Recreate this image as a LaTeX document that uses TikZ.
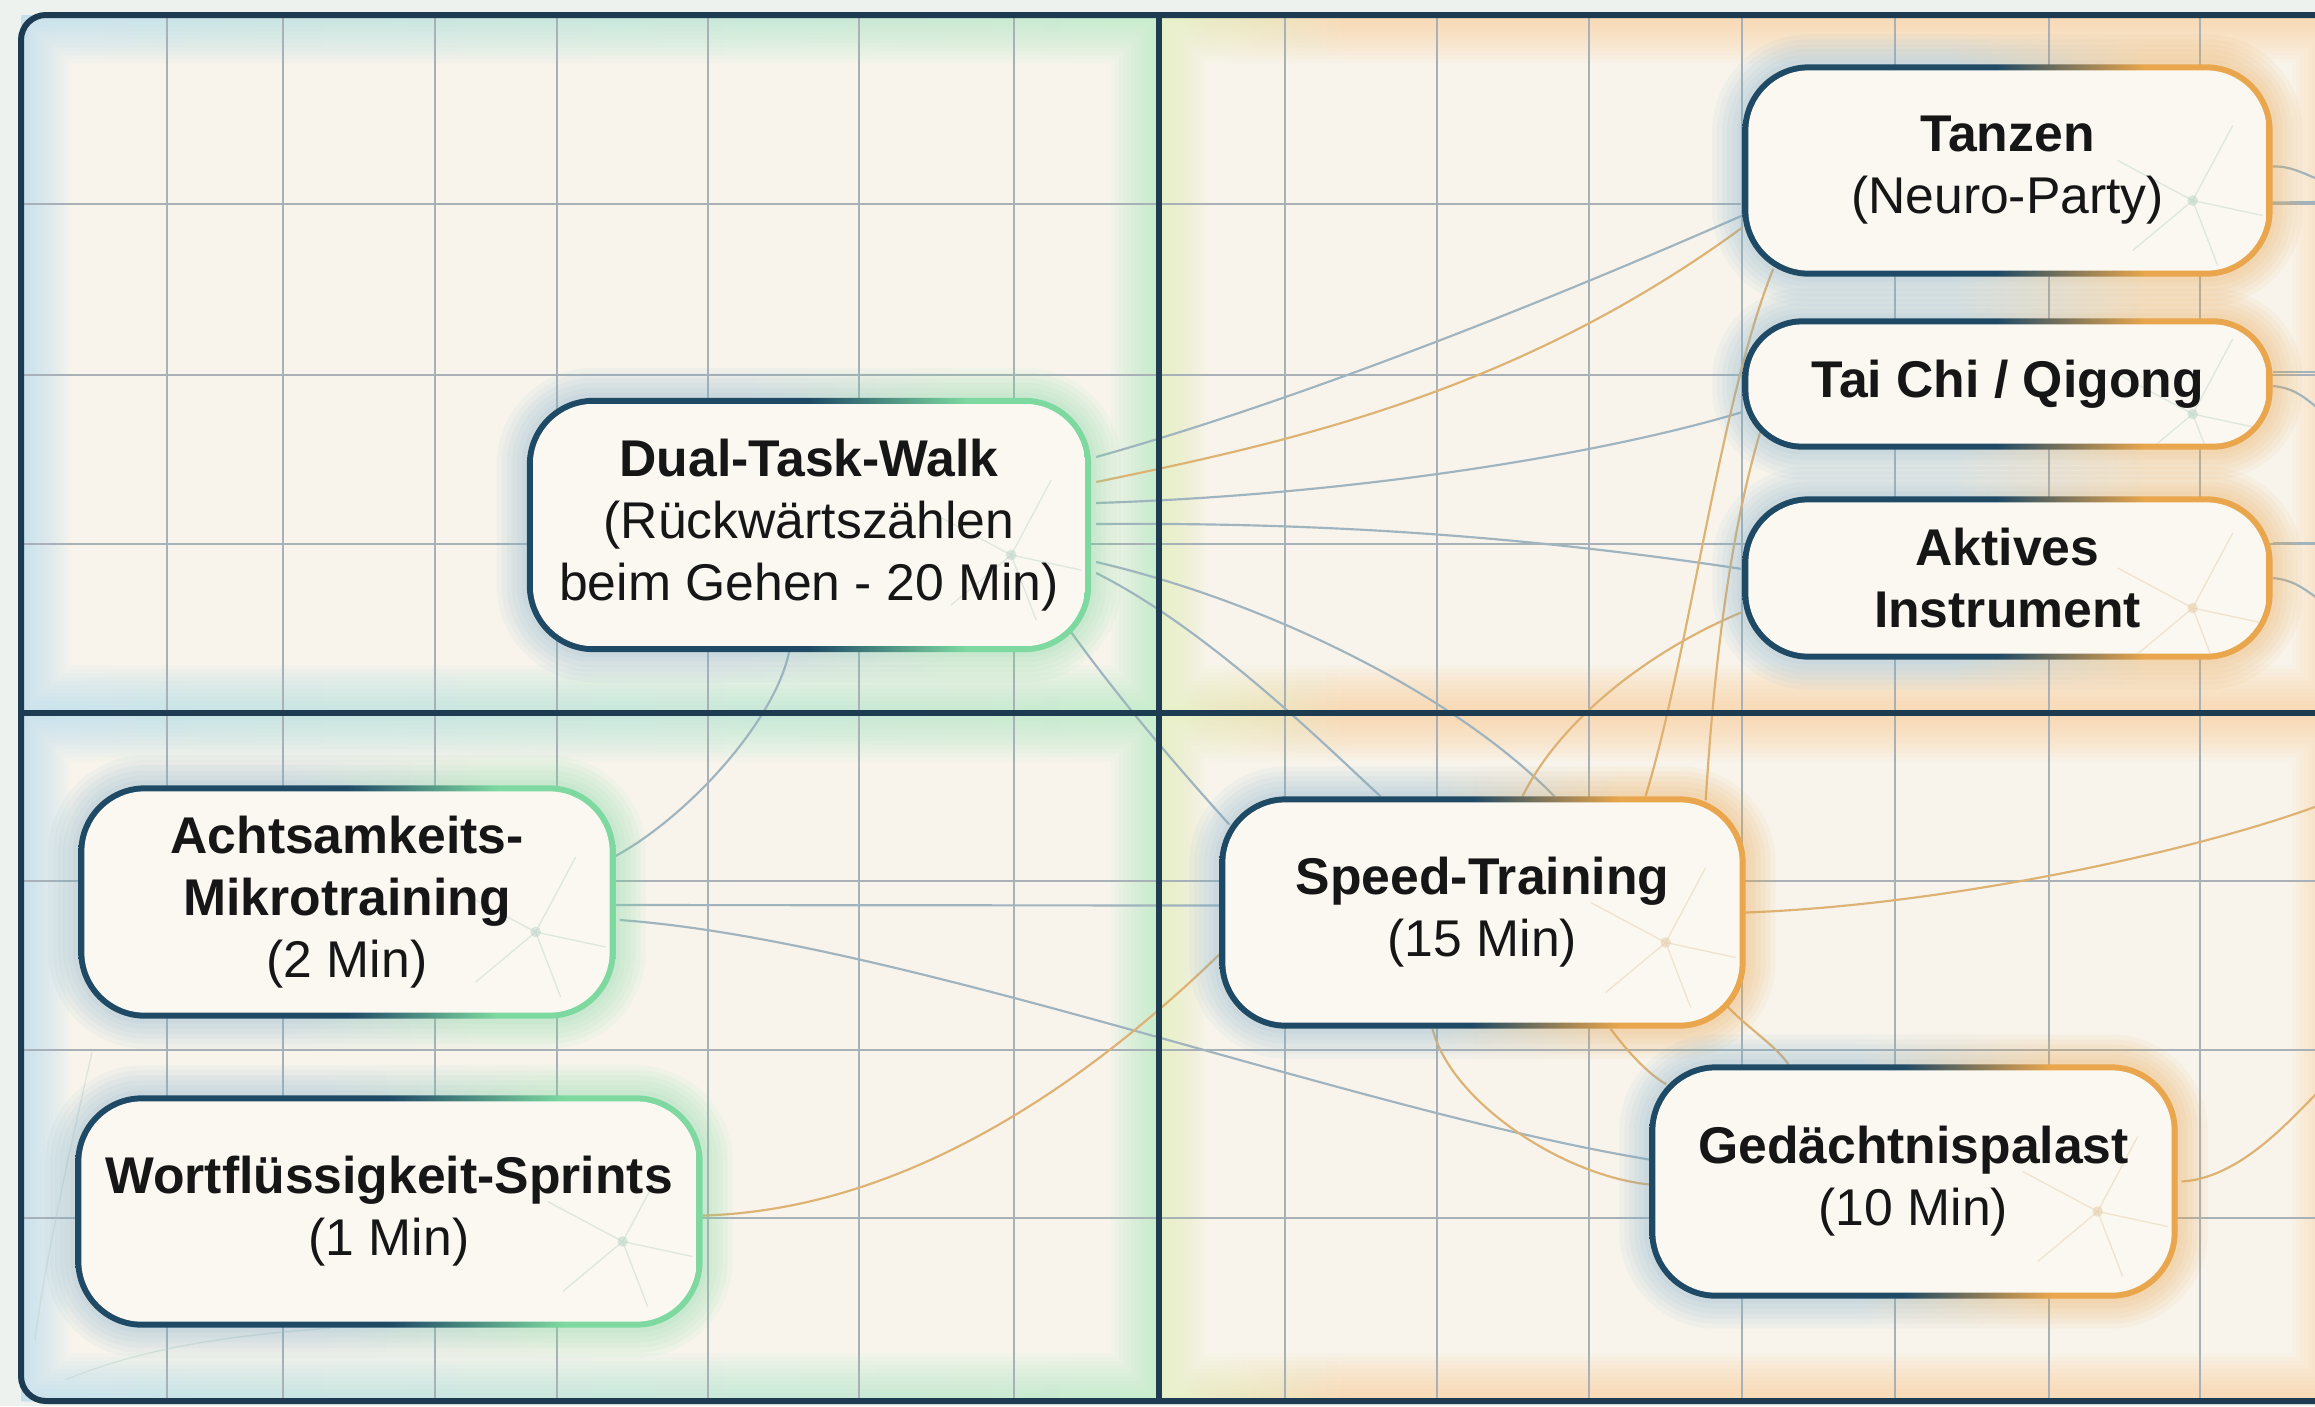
\documentclass[tikz,border=0pt]{standalone}
\usepackage{fontspec}
\setmainfont{Liberation Sans}
\usetikzlibrary{calc}

\definecolor{navy}{HTML}{1F4A66}
\definecolor{mint}{HTML}{7DD9A0}
\definecolor{amber}{HTML}{E9A64C}
\definecolor{haze}{HTML}{7FB0CC}
\definecolor{framenavy}{HTML}{1D3C52}
\definecolor{cream}{HTML}{F8F4EC}
\definecolor{boxfill}{HTML}{FBF8F2}
\definecolor{margin}{HTML}{EDF2EF}
\definecolor{gridgray}{HTML}{A7B1B7}
\definecolor{wblue}{HTML}{9FB4BF}
\definecolor{wtan}{HTML}{DDB273}
\definecolor{ink}{HTML}{161616}
\definecolor{glowblue}{HTML}{B3DCEE}
\definecolor{glowgreen}{HTML}{AEEDC0}
\definecolor{glowyellow}{HTML}{E2F0B6}
\definecolor{gloworange}{HTML}{F8CF98}
\definecolor{neurogreen}{HTML}{B9D3C6}
\definecolor{neurotan}{HTML}{E3CBA4}

\pgfdeclarelayer{back}
\pgfdeclarelayer{wires}
\pgfdeclarelayer{boxes}
\pgfsetlayers{back,wires,boxes,main}

\pgfdeclarehorizontalshading{navymint}{100bp}{color(0bp)=(navy); color(50bp)=(navy); color(64bp)=(mint); color(100bp)=(mint)}
\pgfdeclarehorizontalshading{navyamber}{100bp}{color(0bp)=(navy); color(49bp)=(navy); color(63bp)=(amber); color(100bp)=(amber)}
\pgfdeclarehorizontalshading{hazemint}{100bp}{color(0bp)=(haze); color(45bp)=(haze); color(62bp)=(mint); color(100bp)=(mint)}
\pgfdeclarehorizontalshading{hazeamber}{100bp}{color(0bp)=(haze); color(45bp)=(haze); color(62bp)=(amber); color(100bp)=(amber)}
\pgfdeclarehorizontalshading{glowleft}{100bp}{color(0bp)=(glowblue); color(25bp)=(glowblue); color(75bp)=(glowgreen); color(100bp)=(glowgreen)}
\pgfdeclarehorizontalshading{glowright}{100bp}{color(0bp)=(glowyellow); color(26bp)=(glowyellow); color(33bp)=(gloworange); color(100bp)=(gloworange)}

\tikzset{every picture/.style={line width=0.75pt}}
\tikzset{
  actlbl/.style={align=center, inner sep=0pt, text=ink, font=\fontsize{15.5}{18.6}\selectfont},
  gridline/.style={draw=gridgray, line width=0.55pt},
  framerule/.style={draw=framenavy, line width=1.8pt},
  wireblue/.style={draw=wblue, line width=0.65pt},
  wiretan/.style={draw=wtan, line width=0.65pt},
  neuro/.style={line width=0.4pt, opacity=0.45}
}

% box: name, centre, width, height, radius, border shading, glow shading, neuron colour, text
\newcommand{\actbox}[9]{%
  \node[actlbl, minimum width={#3*0.3pt}, minimum height={#4*0.3pt}] (#1) at (#2) {#9};
  \begin{pgfonlayer}{boxes}
    \foreach \g in {1,...,6}
      \shade[shading=#7, opacity=0.07, rounded corners={(#5+\g*1.5)*1pt}]
        ($(#1.south west)+(-\g*5,\g*5)$) rectangle ($(#1.north east)+(\g*5,-\g*5)$);
    \shade[shading=#6, rounded corners={#5*1pt}] (#1.south west) rectangle (#1.north east);
    \begin{scope}
      \clip[rounded corners={(#5-1.8)*1pt}] ($(#1.south west)+(6,-6)$) rectangle ($(#1.north east)+(-6,6)$);
      \fill[boxfill] ($(#1.south west)+(6,-6)$) rectangle ($(#1.north east)+(-6,6)$);
      \coordinate (#1-n) at ($(#1.east)+(-80,30)$);
      \draw[neuro, draw=#8] (#1-n) -- ++(40,-75) (#1-n) -- ++(-75,-40) (#1-n) -- ++(-60,50) (#1-n) -- ++(25,65) (#1-n) -- ++(70,15);
      \fill[#8, opacity=0.5] (#1-n) circle (1.6pt);
    \end{scope}
  \end{pgfonlayer}}

% soft glow along the inside of a quarter
\newcommand{\quadglow}[5]{%
  \foreach \i in {1,...,12}
    \shade[shading=#5, even odd rule, opacity=0.075] (#1,#2) rectangle (#3,#4) ({#1+\i*4},{#2+\i*4}) rectangle ({#3-\i*4},{#4-\i*4});}

\begin{document}
\begin{tikzpicture}[x=0.3pt,y=0.3pt,yscale=-1,xscale=1]
        \useasboundingbox (0,0) rectangle (2315,1406);

        \begin{pgfonlayer}{back}
        %Background
        \fill[margin] (0,0) rectangle (2315,1406);
        \fill[cream, rounded corners=7.5pt] (2340,15) -- (21,15) -- (21,1401) -- (2340,1401) -- cycle;
        \quadglow{21}{15}{1159}{713}{glowleft}
        \quadglow{21}{713}{1159}{1401}{glowleft}
        \quadglow{1159}{15}{2340}{713}{glowright}
        \quadglow{1159}{713}{2340}{1401}{glowright}
        %Grid
        \foreach \gx in {167,283,435,557,708,859,1014,1285,1437,1589,1742,1895,2049,2200}
          \draw[gridline] (\gx,15) -- (\gx,1401);
        \foreach \gy in {204,375,544,881,1050,1218}
          \draw[gridline] (21,\gy) -- (2340,\gy);
        %Faint neuron strokes
        \draw[neuro, draw=neurogreen] (92,1052) .. controls (70,1150) and (45,1260) .. (35,1340);
        \draw[neuro, draw=neurogreen] (65,1380) .. controls (150,1345) and (240,1335) .. (330,1328);
        \end{pgfonlayer}

        %Frame and quarters
        \draw[framerule, rounded corners=7.5pt] (2340,15) -- (21,15) -- (21,1401) -- (2340,1401);
        \draw[framerule] (1159,15) -- (1159,1401);
        \draw[framerule] (21,713) -- (2340,713);

        %Rounded Rect
        \actbox{dual}{809,525}{563}{253}{20}{navymint}{hazemint}{neurogreen}{\textbf{Dual-Task-Walk}\\(Rückwärtszählen\\beim Gehen - 20 Min)}
        %Rounded Rect
        \actbox{tanzen}{2007.5,170.5}{529}{211}{20}{navyamber}{hazeamber}{neurogreen}{\textbf{Tanzen}\\(Neuro-Party)}
        %Rounded Rect
        \actbox{taichi}{2007.5,384}{529}{130}{18}{navyamber}{hazeamber}{neurogreen}{\textbf{Tai Chi / Qigong}}
        %Rounded Rect
        \actbox{aktives}{2007.5,578}{529}{162}{20}{navyamber}{hazeamber}{neurotan}{\textbf{Aktives}\\\textbf{Instrument}}
        %Rounded Rect
        \actbox{achtsam}{347,902}{536}{232}{20}{navymint}{hazemint}{neurogreen}{\textbf{Achtsamkeits-}\\\textbf{Mikrotraining}\\(2 Min)}
        %Rounded Rect
        \actbox{wortfl}{389,1211.5}{626}{231}{20}{navymint}{hazemint}{neurogreen}{\textbf{Wortflüssigkeit-Sprints}\\(1 Min)}
        %Rounded Rect
        \actbox{speed}{1482.5,912.5}{525}{231}{20}{navyamber}{hazeamber}{neurotan}{\textbf{Speed-Training}\\(15 Min)}
        %Rounded Rect
        \actbox{gedacht}{1913.5,1181.5}{527}{233}{20}{navyamber}{hazeamber}{neurotan}{\textbf{Gedächtnispalast}\\(10 Min)}

        % free ends at the right edge
        \coordinate (edgeA) at (2320,805);
        \coordinate (edgeB) at (2320,1090);
        \coordinate (edgeC) at (2320,180);
        \coordinate (edgeD) at (2320,202);
        \coordinate (edgeE) at (2320,372);
        \coordinate (edgeF) at (2320,410);
        \coordinate (edgeG) at (2320,543);
        \coordinate (edgeH) at (2320,600);

        \begin{pgfonlayer}{wires}
        %Curve Lines
        \draw[wireblue] ($(dual.east)+(5,-68)$) .. controls (1300,400) and (1550,300) .. ($(tanzen.west)+(0,45)$);
        %Curve Lines
        \draw[wiretan] ($(dual.east)+(5,-43)$) .. controls (1300,440) and (1520,390) .. ($(tanzen.west)+(0,57)$);
        %Curve Lines
        \draw[wireblue] ($(dual.east)+(5,-22)$) .. controls (1350,495) and (1600,455) .. ($(taichi.west)+(0,28)$);
        %Curve Lines
        \draw[wireblue] ($(dual.east)+(5,-1)$) .. controls (1350,522) and (1550,540) .. ($(aktives.west)+(0,-9)$);
        %Curve Lines
        \draw[wireblue] ($(dual.east)+(5,37)$) .. controls (1260,600) and (1450,690) .. ($(speed.north)+(72,0)$);
        %Curve Lines
        \draw[wireblue] ($(dual.east)+(5,48)$) .. controls (1210,630) and (1330,750) .. ($(speed.north)+(-102,0)$);
        %Curve Lines
        \draw[wireblue] ($(dual.south east)+(-20,-20)$) .. controls (1120,700) and (1180,770) .. ($(speed.west)+(10,-88)$);
        %Curve Lines
        \draw[wireblue] ($(dual.south)+(-20,0)$) .. controls (775,720) and (690,815) .. ($(achtsam.east)+(0,-46)$);
        %Straight Lines
        \draw[wireblue] ($(achtsam.east)+(0,3)$) -- ($(speed.west)+(0,-7)$);
        %Curve Lines
        \draw[wireblue] ($(achtsam.east)+(4,18)$) .. controls (900,940) and (1350,1110) .. ($(gedacht.west)+(0,-22)$);
        %Curve Lines
        \draw[wiretan] ($(wortfl.east)+(0,4)$) .. controls (900,1210) and (1080,1090) .. ($(speed.west)+(2,40)$);
        %Curve Lines
        \draw[wiretan] ($(speed.south)+(-50,0)$) .. controls (1450,1100) and (1560,1175) .. ($(gedacht.west)+(0,3)$);
        %Curve Lines
        \draw[wiretan] ($(speed.south)+(128,0)$) .. controls (1630,1055) and (1650,1075) .. ($(gedacht.north west)+(17,20)$);
        %Curve Lines
        \draw[wiretan] ($(speed.south east)+(-18,-22)$) .. controls (1750,1030) and (1775,1045) .. ($(gedacht.north)+(-125,0)$);
        %Curve Lines
        \draw[wiretan] (speed.east) .. controls (1950,905) and (2200,850) .. (edgeA);
        %Curve Lines
        \draw[wiretan] ($(gedacht.east)+(4,0)$) .. controls (2240,1178) and (2290,1120) .. (edgeB);
        %Curve Lines
        \draw[wiretan] ($(tanzen.south west)+(31,-8)$) .. controls (1720,400) and (1690,650) .. ($(speed.north)+(163,0)$);
        %Curve Lines
        \draw[wiretan] ($(taichi.south west)+(18,-18)$) .. controls (1725,550) and (1712,700) .. ($(speed.north east)+(-40,4)$);
        %Curve Lines
        \draw[wiretan] ($(aktives.west)+(0,34)$) .. controls (1650,650) and (1560,720) .. ($(speed.north)+(40,0)$);
        %Right edge
        \draw[wireblue] ($(tanzen.east)+(0,-4)$) .. controls (2290,166) and (2300,172) .. (edgeC);
        \draw[wireblue] ($(tanzen.east)+(0,32)$) -- (edgeD);
        \draw[wireblue] ($(taichi.east)+(0,-12)$) -- (edgeE);
        \draw[wireblue] ($(taichi.east)+(0,2)$) .. controls (2295,388) and (2305,398) .. (edgeF);
        \draw[wireblue] ($(aktives.east)+(0,-35)$) -- (edgeG);
        \draw[wireblue] (aktives.east) .. controls (2295,580) and (2305,590) .. (edgeH);
        \end{pgfonlayer}

    \end{tikzpicture}
\end{document}
